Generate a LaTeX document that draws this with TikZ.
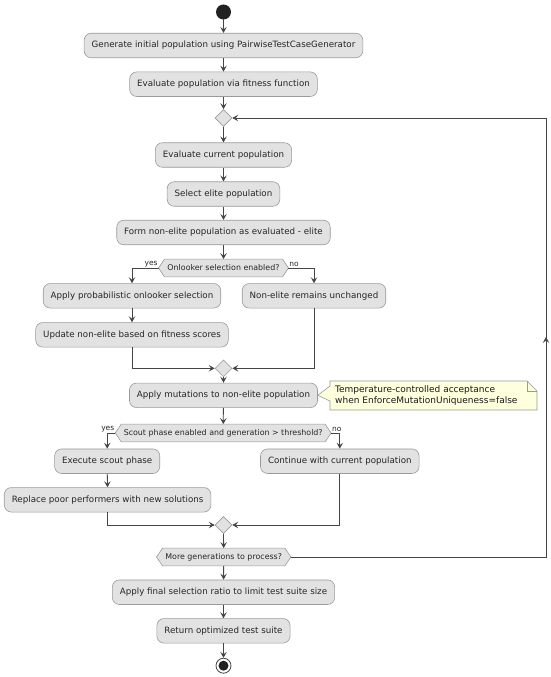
\documentclass[tikz,border=0pt]{standalone}
\usepackage{fontspec}
\setmainfont{DejaVu Sans}
\usetikzlibrary{arrows.meta,shapes.geometric,backgrounds}
\definecolor{boxfill}{HTML}{E2E2E2}
\definecolor{boxborder}{HTML}{9A9A9A}
\definecolor{linec}{HTML}{454545}
\definecolor{notefill}{HTML}{FEFFDD}
\definecolor{dotc}{HTML}{222222}
\tikzset{
  act/.style={draw=boxborder, fill=boxfill, rounded corners=7pt, minimum height=24.5pt,
    inner xsep=7.5pt, font=\fontsize{8.7}{10}\selectfont, line width=0.6pt, text=black!85},
  arr/.style={draw=linec, line width=0.8pt, -{Stealth[length=6pt,width=6.5pt,inset=2.5pt]}},
  ln/.style={draw=linec, line width=0.8pt},
  dia/.style={diamond, draw=boxborder, fill=boxfill, minimum size=17pt, inner sep=0pt, line width=0.6pt},
  hexn/.style={font=\fontsize{7.9}{9}\selectfont, minimum height=17.4pt, inner xsep=0pt, text=black!85},
  hexbg/.style={draw=boxborder, fill=boxfill, line width=0.6pt},
  lbl/.style={font=\fontsize{7.5}{8}\selectfont, inner sep=0.8pt, text=black!85}
}
\newcommand\hexdraw[1]{%
  \begin{pgfonlayer}{background}
  \path[hexbg] (#1.west) -- ([xshift=6pt]#1.north west) -- ([xshift=-6pt]#1.north east)
    -- (#1.east) -- ([xshift=-6pt]#1.south east) -- ([xshift=6pt]#1.south west) -- cycle;
  \end{pgfonlayer}}
\begin{document}
\begin{tikzpicture}[x=1pt,y=-1pt]
\useasboundingbox (0,0) rectangle (550,677);
% start
\fill[dotc] (223.5,12) circle (7.5pt);
\coordinate (startc) at (223.5,19.5);
\node[act] (b1) at (223.5,45.5) {Generate initial population using PairwiseTestCaseGenerator};
\node[act] (b2) at (223.5,84.2) {Evaluate population via fitness function};
\node[dia] (d1) at (223.5,118) {};
\node[act] (b3) at (223.5,155) {Evaluate current population};
\node[act] (b4) at (223.5,194) {Select elite population};
\node[act] (b5) at (223.5,232.5) {Form non-elite population as evaluated - elite};
\node[hexn, minimum width=129.5pt] (h1) at (223.5,268) {Onlooker selection enabled?};
\hexdraw{h1}
\node[lbl, anchor=south east] at (h1.west) {yes};
\node[lbl, anchor=south west] at (h1.east) {no};
\node[act] (b6) at (132,295.8) {Apply probabilistic onlooker selection};
\node[act] (b7) at (314,295.8) {Non-elite remains unchanged};
\node[act] (b8) at (132,334.8) {Update non-elite based on fitness scores};
\node[dia] (d2) at (223.5,368.3) {};
\node[act] (b9) at (223.5,395.3) {Apply mutations to non-elite population};
% note
\path[draw=boxborder, fill=notefill, line width=0.6pt]
  (330,381) -- (527,381) -- (537,391) -- (537,410) -- (330,410) -- (330,401)
  -- (b9.east) -- (330,386) -- cycle;
\draw[boxborder, line width=0.6pt] (527,381) -- (527,391) -- (537,391);
\node[font=\fontsize{9}{11}\selectfont, align=left, anchor=west, inner sep=0pt, text=black!90] (note) at (335,395.5)
  {Temperature-controlled acceptance\\when EnforceMutationUniqueness=false};
\node[hexn, minimum width=215.5pt] (h2) at (223.2,433) {Scout phase enabled and generation > threshold?};
\hexdraw{h2}
\node[lbl, anchor=south east] at (h2.west) {yes};
\node[lbl, anchor=south west] at (h2.east) {no};
\node[act] (b10) at (107.2,461.2) {Execute scout phase};
\node[act] (b11) at (339.8,461.2) {Continue with current population};
\node[act] (b12) at (107.6,499.8) {Replace poor performers with new solutions};
\node[dia] (d3) at (223.5,525) {};
\node[hexn, minimum width=134pt] (h3) at (223.7,557) {More generations to process?};
\hexdraw{h3}
\node[act] (b13) at (223.5,592.2) {Apply final selection ratio to limit test suite size};
\node[act] (b14) at (223.5,630.8) {Return optimized test suite};
% end
\node[circle, draw=linec, fill=white, line width=0.8pt, minimum size=15pt, inner sep=0pt] (endc) at (223.5,665.7) {};
\fill[dotc] (endc.center) circle (5pt);
% connectors
\draw[arr] (startc) -- (b1);
\draw[arr] (b1) -- (b2);
\draw[arr] (b2) -- (d1);
\draw[arr] (d1) -- (b3);
\draw[arr] (b3) -- (b4);
\draw[arr] (b4) -- (b5);
\draw[arr] (b5) -- (h1);
\draw[arr] (h1.west) -| (b6.north);
\draw[arr] (h1.east) -| (b7.north);
\draw[arr] (b6) -- (b8);
\draw[arr] (b8.south) |- (d2.west);
\draw[arr] (b7.south) |- (d2.east);
\draw[arr] (d2) -- (b9);
\draw[arr] (b9) -- (h2);
\draw[arr] (h2.west) -| (b10.north);
\draw[arr] (h2.east) -| (b11.north);
\draw[arr] (b10) -- (b12);
\draw[arr] (b12.south) |- (d3.west);
\draw[arr] (b11.south) |- (d3.east);
\draw[arr] (d3) -- (h3);
\draw[arr] (h3) -- (b13);
\draw[arr] (b13) -- (b14);
\draw[arr] (b14) -- (endc);
% loop back
\coordinate (lr) at (546,557);
\coordinate (lm) at (546,337);
\coordinate (ur) at (546,118);
\draw[ln] (h3.east) -- (lr) -- (ur);
\draw[arr] (lr) -- (lm);
\draw[arr] (ur) -- (d1.east);
\end{tikzpicture}
\end{document}
